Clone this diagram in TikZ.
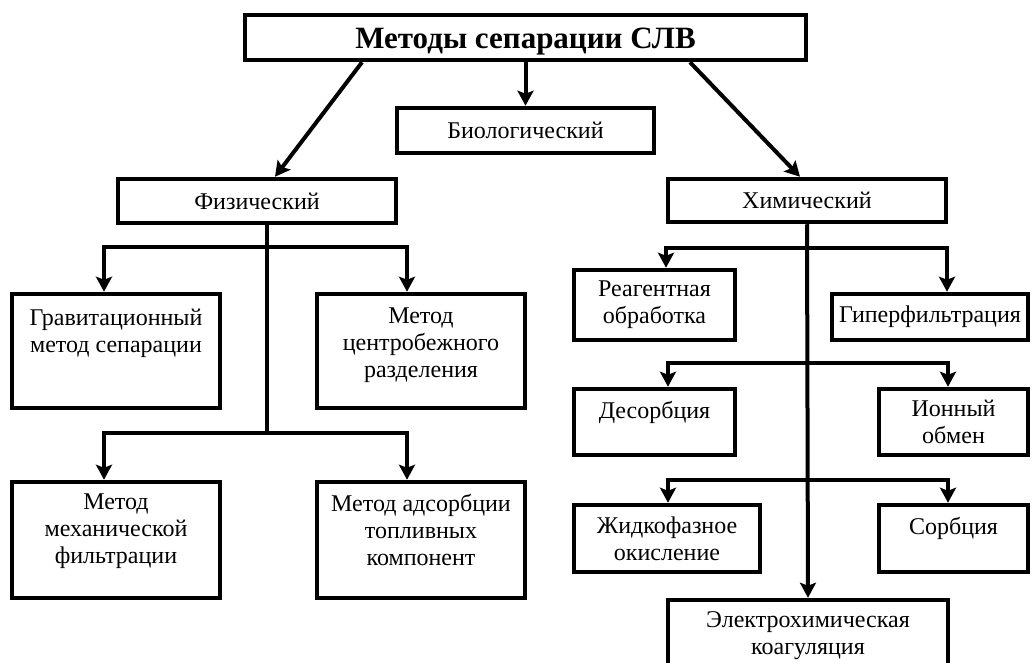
\documentclass[tikz,border=0pt]{standalone}
\usepackage{fontspec}
\setmainfont{Liberation Serif}
\usetikzlibrary{arrows.meta,positioning}

\tikzset{
  box/.style={draw,line width=4.5pt,inner sep=0pt,align=center,font=\fontsize{24}{27}\selectfont},
  toptext/.style={anchor=north,yshift=-#1,inner sep=0pt,align=center,font=\fontsize{24}{27}\selectfont},
  toptext/.default=14pt,
  wire/.style={line width=4pt},
  arr/.style={line width=4pt,-{Stealth[length=15pt,width=16pt,inset=3pt]}}
}

\begin{document}
\begin{tikzpicture}[x=1pt,y=-1pt]
        \useasboundingbox (0,0) rectangle (1034,663);
        \clip (0,0) rectangle (1034,663);
        \node[box,minimum width=561pt,minimum height=45pt,text height=22pt,text depth=0pt,font=\fontsize{31}{34}\selectfont\bfseries] (top) at (525.5,37.5) {Методы сепарации СЛВ};
        \node[box,minimum width=257pt,minimum height=45pt] (bio) at (525.5,130.5) {Биологический};
        \node[box,minimum width=278pt,minimum height=44pt] (fiz) at (257,201) {Физический};
        \node[box,minimum width=278pt,minimum height=43pt] (him) at (807,200.5) {Химический};
        % physical branch
        \node[box,minimum width=208pt,minimum height=114pt,label={[toptext=17pt]north:Гравитационный\\метод сепарации}] (grav) at (116,351) {};
        \node[box,minimum width=208pt,minimum height=114pt,label={[toptext=16pt]north:Метод\\центробежного\\разделения}] (centr) at (421,351) {};
        \node[box,minimum width=208pt,minimum height=116pt,label={[toptext]north:Метод\\механической\\фильтрации}] (mech) at (116,540) {};
        \node[box,minimum width=208pt,minimum height=116pt,label={[toptext]north:Метод адсорбции\\топливных\\компонент}] (adsorb) at (421,540) {};
        % chemical branch
        \node[box,minimum width=161pt,minimum height=70pt] (reag) at (654.5,305) {Реагентная\\обработка};
        \node[box,minimum width=196pt,minimum height=46pt] (giper) at (930,317) {Гиперфильтрация};
        \node[box,minimum width=161pt,minimum height=66pt,label={[toptext]north:Десорбция}] (desorb) at (654.5,422) {};
        \node[box,minimum width=149pt,minimum height=66pt] (ion) at (953.5,422) {Ионный\\обмен};
        \node[box,minimum width=186pt,minimum height=67pt] (zhid) at (667,538.5) {Жидкофазное\\окисление};
        \node[box,minimum width=149pt,minimum height=67pt,label={[toptext]north:Сорбция}] (sorb) at (953.5,538.5) {};
        \node[box,minimum width=280pt,minimum height=80pt,label={[toptext]north:Электрохимическая\\коагуляция}] (electro) at (808,640) {};

        \draw[arr] ([xshift=-163.5pt]top.south) -- ([xshift=18pt]fiz.north);
        \draw[arr] (top.south) -- (bio.north);
        \draw[arr] ([xshift=164.5pt]top.south) -- ([xshift=-7pt]him.north);

        \coordinate (fj1) at (267,247);
        \coordinate (fj2) at (267,433);
        \draw[wire] (fiz.south -| fj1) -- (fj2);
        \foreach \jn/\lft/\rgt in {fj1/grav/centr,fj2/mech/adsorb}{
          \draw[arr] (\jn) -| ([xshift=-12pt]\lft.north);
          \draw[arr] (\jn) -| ([xshift=-14pt]\rgt.north);
        }

        \coordinate (cj1) at (807,248);
        \coordinate (cj2) at (807,363);
        \coordinate (cj3) at (807,480);
        \draw[arr] (him.south) -- (electro.north);
        \foreach \jn/\lft/\rgt/\dl/\dr in {cj1/reag/giper/11.5pt/17pt,cj2/desorb/ion/13.5pt/-5.5pt,cj3/zhid/sorb/1pt/-5.5pt}{
          \draw[arr] (\jn) -| ([xshift=\dl]\lft.north);
          \draw[arr] (\jn) -| ([xshift=\dr]\rgt.north);
        }
      \end{tikzpicture}
\end{document}
